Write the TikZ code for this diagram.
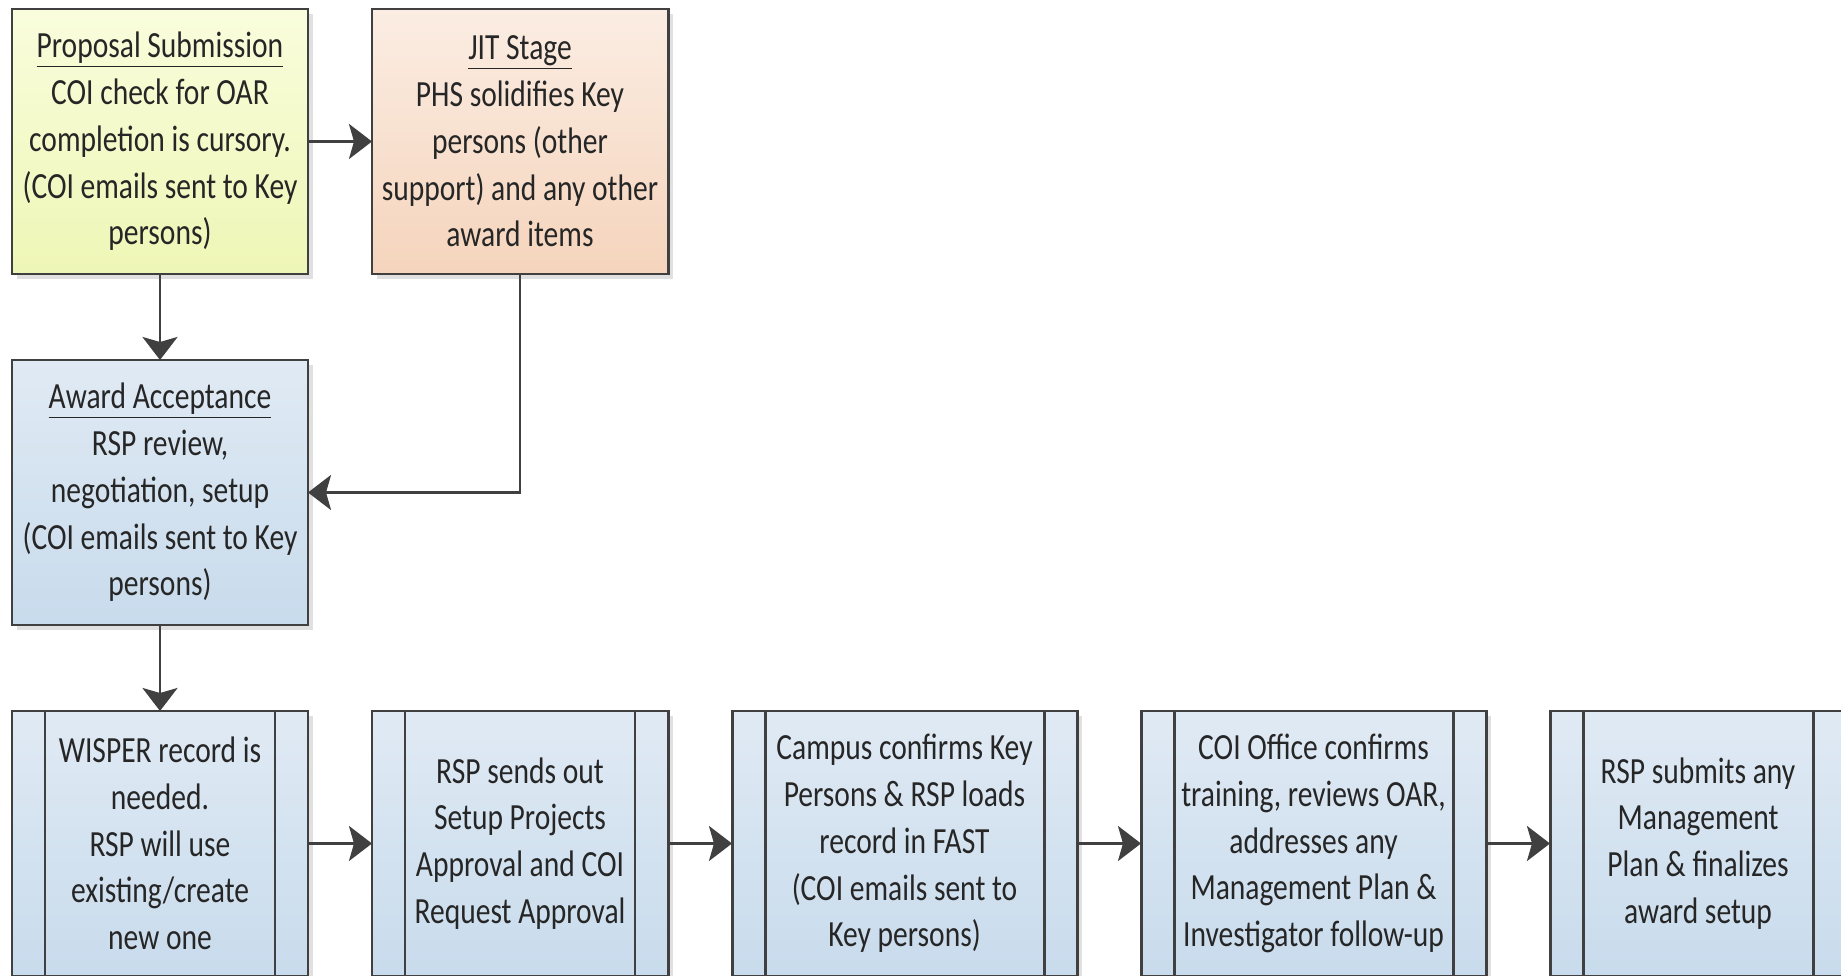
\documentclass[tikz,border=0pt]{standalone}
\usepackage{fontspec}
\setmainfont[FakeStretch=0.8]{Carlito}
\usetikzlibrary{positioning,shadows,arrows.meta}

\definecolor{edgegray}{HTML}{404040}
\definecolor{yellowtop}{HTML}{F9FDDC}
\definecolor{yellowbot}{HTML}{EEF6B6}
\definecolor{peachtop}{HTML}{FBEDE3}
\definecolor{peachbot}{HTML}{F5D4BC}
\definecolor{bluetop}{HTML}{E0EAF4}
\definecolor{bluebot}{HTML}{C8DBEC}

\begin{document}
\begin{tikzpicture}[node distance=1.72cm and 1.28cm, >={Stealth[length=0.46cm,width=0.7cm,inset=0.1cm]},
	box/.style = {draw=edgegray, line width=1.7pt, outer sep=0pt, inner sep=2pt, minimum width=5.92cm, minimum height=5.3cm, align=center, text=black!85, font=\fontsize{21}{26.6}\selectfont, drop shadow={shadow xshift=0.1cm, shadow yshift=-0.1cm, opacity=1, fill=black!12}},
	wide/.style = {minimum width=6.9cm},
	yellowbox/.style = {box, top color=yellowtop, bottom color=yellowbot},
	peachbox/.style = {box, top color=peachtop, bottom color=peachbot},
	bluebox/.style = {box, top color=bluetop, bottom color=bluebot},
	flow/.style = {->, draw=edgegray, line width=1.7pt}]
		\useasboundingbox (0,0) rectangle (36.82,-19.52);
		%Top part of the chart
		\node[yellowbox, anchor=north west] (1) at (0.24,-0.18) {\underline{Proposal Submission}\\COI check for OAR\\completion is cursory.\\(COI emails sent to Key\\persons)};
		\node[peachbox] (2) [right=of 1] {\underline{JIT Stage}\\PHS solidifies Key\\persons (other\\support) and any other\\award items};
		\node[bluebox] (3) [below=of 1] {\underline{Award Acceptance}\\RSP review,\\negotiation, setup\\(COI emails sent to Key\\persons)};
		%Create 5 process boxes in bottom row
		\node[bluebox] (4) [below=of 3] {WISPER record is\\needed.\\RSP will use\\existing/create\\new one};
		\node[bluebox] (5) [right=of 4] {RSP sends out\\Setup Projects\\Approval and COI\\Request Approval};
		\node[bluebox, wide] (6) [right=of 5] {Campus confirms Key\\Persons \& RSP loads\\record in FAST\\(COI emails sent to\\Key persons)};
		\node[bluebox, wide] (7) [right=of 6] {COI Office confirms\\training, reviews OAR,\\addresses any\\Management Plan \&\\Investigator follow-up};
		\node[bluebox] (8) [right=of 7] {RSP submits any\\Management\\Plan \& finalizes\\award setup};
		
		%Side bars of the process boxes
		\foreach \n in {4,...,8}
			\draw[edgegray, line width=1.7pt] ([xshift=0.66cm]\n.north west) -- ([xshift=0.66cm]\n.south west)
				([xshift=-0.66cm]\n.north east) -- ([xshift=-0.66cm]\n.south east);
		
		%Arrows
		\draw[flow] (1) -- (2); %Proposal -> JIT
		\draw[flow] (1) -- (3); %Proposal -> Award
		\draw[flow] (2.south) |- (3.east); %JIT -> Award
		\draw[flow] (3) -- (4); %Award -> WISPER
		\draw[flow] (4) -- (5); %WISPER -> Setup
		\draw[flow] (5) -- (6); %Setup -> Campus
		\draw[flow] (6) -- (7); %Campus -> COI Office
		\draw[flow] (7) -- (8); %COI Office -> finalize
		
	\end{tikzpicture}
\end{document}
